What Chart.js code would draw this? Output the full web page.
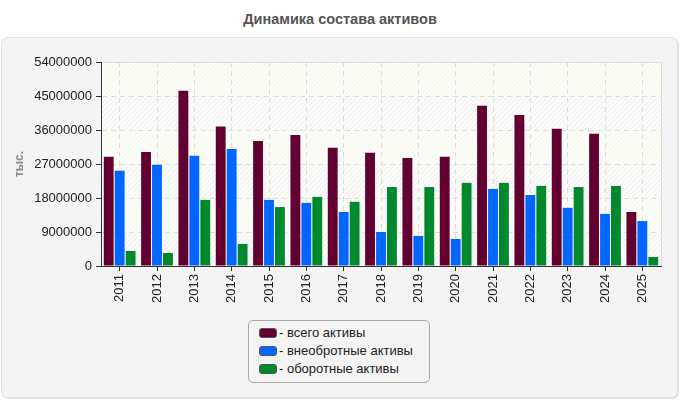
<!DOCTYPE html>
<html>
<head>
<meta charset="utf-8">
<script src="https://cdn.jsdelivr.net/npm/chart.js@4"></script>
<style>
  body { margin:0; background:#fff; font-family:"Liberation Sans", Arial, sans-serif; }
  #title { position:absolute; left:0; top:11px; width:680px; text-align:center; font-size:14.5px; font-weight:bold; color:#555; }
  #panel { position:absolute; left:1px; top:37px; width:675px; height:359px; background:#f4f4f4; border:1px solid #e2e2e2; border-radius:7px; box-shadow:1px 1px 1px #ddd; }
  #wrap { position:absolute; left:0; top:0; width:680px; height:400px; }
  #legend { position:absolute; left:248px; top:320px; width:180px; height:61px; border:1px solid #aaa; border-radius:5px; background:#f4f4f4; font-size:13px; color:#222; }
  #legend div { height:18px; line-height:18px; padding-left:10px; white-space:nowrap; }
  #legend span { display:inline-block; width:16px; height:8px; border:1px solid #555; border-radius:3px; margin-right:2px; vertical-align:-1px; }
</style>
</head>
<body>
<div id="title">Динамика состава активов</div>
<div id="panel"></div>
<div id="wrap"><canvas id="chart" width="680" height="400"></canvas></div>
<div id="legend"></div>
<script>
const years = ['2011','2012','2013','2014','2015','2016','2017','2018','2019','2020','2021','2022','2023','2024','2025'];
const totalAssets = [28900000, 30200000, 46400000, 36900000, 33100000, 34700000, 31300000, 30000000, 28600000, 28900000, 42400000, 40000000, 36300000, 35000000, 14300000];
const fixedAssets = [25200000, 26800000, 29200000, 31000000, 17500000, 16700000, 14300000, 9000000, 7950000, 7160000, 20400000, 18800000, 15400000, 13800000, 11900000];
const currentAssets = [3980000, 3450000, 17500000, 5830000, 15600000, 18300000, 17000000, 20900000, 20900000, 22000000, 22000000, 21200000, 20900000, 21200000, 2390000];
const seriesNames = ['всего активы', 'внеобротные активы', 'оборотные активы'];
const seriesColors = ['#640031', '#0066ff', '#00882f'];
const yTicks = [0, 9000000, 18000000, 27000000, 36000000, 45000000, 54000000];

function hatch(bg, line) {
    let c = document.createElement('canvas');
    c.width = 5; c.height = 5;
    let g = c.getContext('2d');
    g.fillStyle = bg; g.fillRect(0, 0, 5, 5);
    g.strokeStyle = line; g.lineWidth = 1;
    g.beginPath(); g.moveTo(-1, 6); g.lineTo(6, -1); g.stroke();
    g.beginPath(); g.moveTo(-1, 1); g.lineTo(1, -1); g.stroke();
    g.beginPath(); g.moveTo(4, 6); g.lineTo(6, 4); g.stroke();
    return g.createPattern(c, 'repeat');
}

// banded background of the plot area
const plotBg = {
    id: 'plotBg',
    beforeDraw(chart) {
        const {ctx, chartArea: a, scales: {y}} = chart;
        const light = hatch('#fdfdf7', '#f5f5ee');
        const dark = hatch('#fcfcfa', '#ececec');
        ctx.save();
        for (let i = 0; i < yTicks.length - 1; i++) {
            const top = y.getPixelForValue(yTicks[i + 1]);
            const bot = y.getPixelForValue(yTicks[i]);
            ctx.fillStyle = (i % 2 == 0) ? dark : light;
            ctx.fillRect(a.left, top, a.right - a.left, bot - top);
        }
        ctx.strokeStyle = '#dcdcdc';
        ctx.lineWidth = 1;
        ctx.beginPath();
        ctx.moveTo(a.left, a.top + 0.5); ctx.lineTo(a.right + 0.5, a.top + 0.5); ctx.lineTo(a.right + 0.5, a.bottom);
        ctx.stroke();
        ctx.restore();
    }
};

const data = {
    labels: years,
    datasets: [totalAssets, fixedAssets, currentAssets].map((d, i) => ({
        label: seriesNames[i], data: d, backgroundColor: seriesColors[i],
        categoryPercentage: 0.88, barPercentage: 0.9
    }))
};

document.getElementById('legend').innerHTML = '<div style="height:3px"></div>' + seriesNames.map((n, i) =>
    "<div><span style='background:" + seriesColors[i] + "'></span>- " + n + "</div>").join('');

new Chart(document.getElementById('chart'), {
    type: 'bar', data: data, plugins: [plotBg],
    options: {
        responsive: false, animation: false,
        layout: {padding: {left: 8, top: 62, right: 19, bottom: 94}},
        plugins: {legend: {display: false}, tooltip: {enabled: false}},
        scales: {
            x: {
                afterFit: s => { s.height = 40; },
                grid: {offset: false, color: '#dddddd', tickColor: '#333', tickLength: 5, tickBorderDash: []},
                border: {color: '#333', dash: [5, 4]},
                ticks: {color: '#222', font: {family: 'Liberation Sans', size: 13}, minRotation: 90, maxRotation: 90, padding: 3}
            },
            y: {
                min: 0, max: 54000000,
                afterFit: s => { s.width = 93; },
                afterBuildTicks: s => { s.ticks = yTicks.map(v => ({value: v})); },
                grid: {color: '#dddddd', tickColor: '#333', tickLength: 5, tickBorderDash: []},
                border: {color: '#333', dash: [5, 4]},
                ticks: {color: '#222', font: {family: 'Liberation Sans', size: 13}, padding: 4, callback: v => String(v)},
                title: {display: true, text: 'тыс.', color: '#888', font: {family: 'Liberation Sans', size: 12, weight: 'bold'}, padding: {bottom: 0}}
            }
        }
    }
});
</script>
</body>
</html>
